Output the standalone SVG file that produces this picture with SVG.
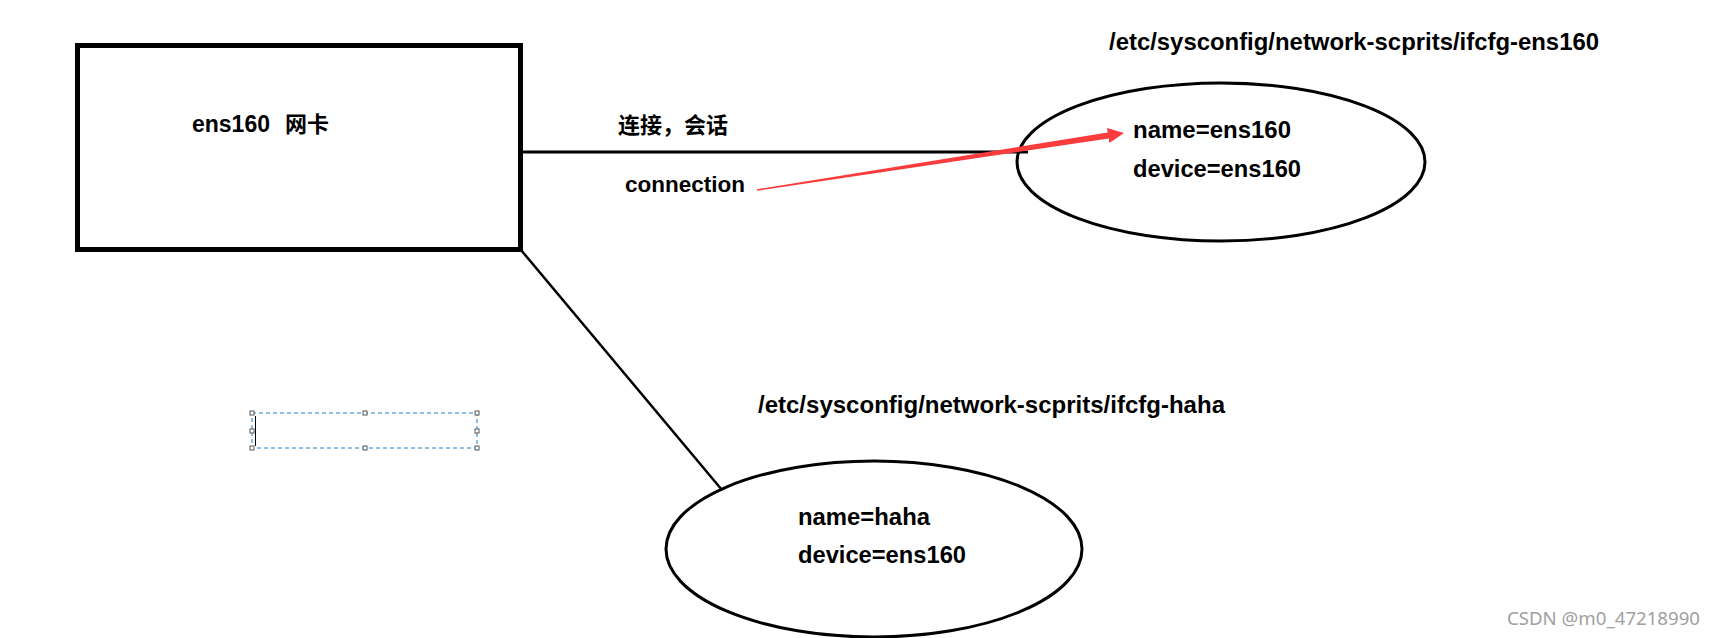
<svg xmlns="http://www.w3.org/2000/svg" width="1719" height="638" viewBox="0 0 1719 638">
<style>
.t{font-family:"Liberation Sans","Noto Sans CJK SC",sans-serif;font-weight:bold;fill:#000}
.cjk{font-family:"Noto Sans CJK SC","Liberation Sans",sans-serif;font-weight:bold;fill:#000}
.blk{fill:none;stroke:#000}
.h{fill:#fff;stroke:#555;stroke-width:1}
</style>
<rect width="1719" height="638" fill="#fff"/>
<g id="nic-box">
<rect class="blk" x="77.5" y="45.5" width="443" height="204" stroke-width="5"/>
<text class="t" x="192" y="132" font-size="23" textLength="78" lengthAdjust="spacingAndGlyphs">ens160</text>
<text class="cjk" x="285" y="132" font-size="22">网卡</text>
</g>
<g id="connectors">
<line class="blk" x1="523" y1="152" x2="1028" y2="152" stroke-width="3"/>
<line class="blk" x1="521" y1="250" x2="722" y2="490" stroke-width="2.5"/>
</g>
<g id="conn-labels">
<text class="cjk" x="618" y="133" font-size="22" textLength="110" lengthAdjust="spacingAndGlyphs">连接，会话</text>
<text class="t" x="625" y="192" font-size="22" textLength="120" lengthAdjust="spacingAndGlyphs">connection</text>
</g>
<g id="cfg-ens160">
<text class="t" x="1109" y="50" font-size="24" textLength="490" lengthAdjust="spacingAndGlyphs">/etc/sysconfig/network-scprits/ifcfg-ens160</text>
<ellipse class="blk" cx="1221" cy="162" rx="204" ry="79" stroke-width="3"/>
<text class="t" x="1133" y="138" font-size="24" textLength="158" lengthAdjust="spacingAndGlyphs">name=ens160</text>
<text class="t" x="1133" y="177" font-size="24" textLength="168" lengthAdjust="spacingAndGlyphs">device=ens160</text>
</g>
<g id="cfg-haha">
<text class="t" x="758" y="413" font-size="24" textLength="467" lengthAdjust="spacingAndGlyphs">/etc/sysconfig/network-scprits/ifcfg-haha</text>
<ellipse class="blk" cx="874" cy="549" rx="208" ry="88" stroke-width="3"/>
<text class="t" x="798" y="525" font-size="24" textLength="132" lengthAdjust="spacingAndGlyphs">name=haha</text>
<text class="t" x="798" y="563" font-size="24" textLength="168" lengthAdjust="spacingAndGlyphs">device=ens160</text>
</g>
<g id="text-box">
<rect x="252" y="413" width="225" height="35" fill="none" stroke="#1a7fd4" stroke-width="1" stroke-dasharray="4 3"/>
<line x1="255.5" y1="416" x2="255.5" y2="446" stroke="#000" stroke-width="1"/>
<rect class="h" x="250" y="411" width="4" height="4"/>
<rect class="h" x="363" y="411" width="4" height="4"/>
<rect class="h" x="475" y="411" width="4" height="4"/>
<rect class="h" x="250" y="429" width="4" height="4"/>
<rect class="h" x="475" y="429" width="4" height="4"/>
<rect class="h" x="250" y="446" width="4" height="4"/>
<rect class="h" x="363" y="446" width="4" height="4"/>
<rect class="h" x="475" y="446" width="4" height="4"/>
</g>
<g id="red-arrow">
<polygon fill="#fa3c3c" points="756.9,189.2 1107.7,132.5 1107,128.1 1124,133 1109.4,142.9 1108.7,138.5 757.1,190.8"/>
</g>
<text x="1507" y="625" font-family="'Noto Sans','Liberation Sans',sans-serif" font-size="18.5" fill="#a0a0a0" textLength="193" lengthAdjust="spacingAndGlyphs">CSDN @m0_47218990</text>
</svg>
